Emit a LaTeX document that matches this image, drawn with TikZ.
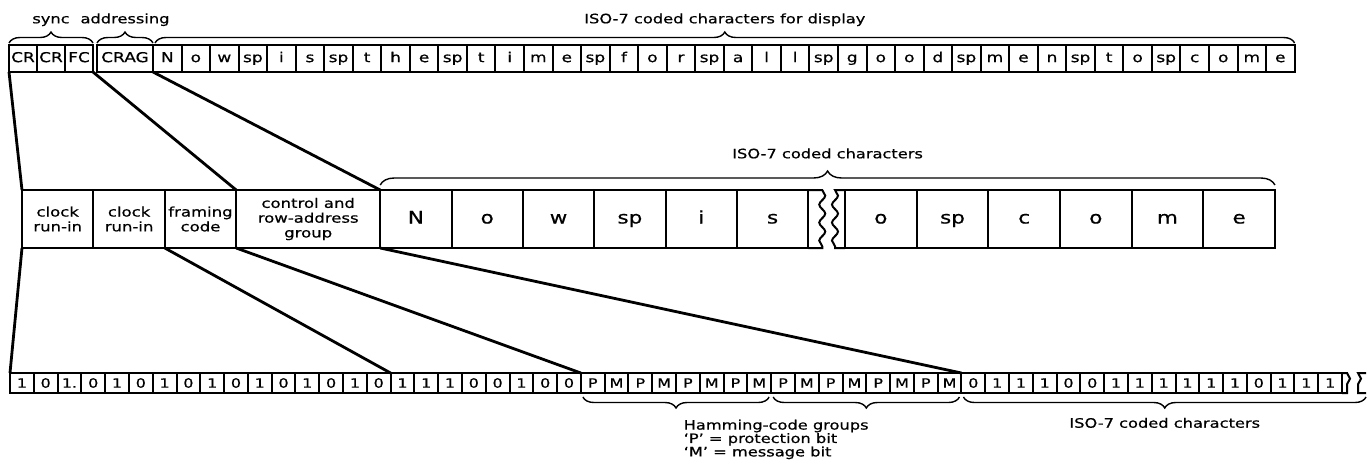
\documentclass[tikz,border=0pt]{standalone}
\usepackage{fontspec}
\setmainfont{DejaVu Sans}[FakeStretch=1.25,FakeBold=0.6]
\usetikzlibrary{positioning,decorations.pathreplacing,decorations.pathmorphing}

\begin{document}
\begin{tikzpicture}[x=0.5pt,y=-0.5pt,
 cell/.style={draw,line width=1pt,inner sep=0pt,outer sep=0pt,anchor=north west},
 tcell/.style={cell,minimum width=14.27pt,minimum height=13.5pt,font=\fontsize{6.8}{7}\selectfont,
   text height=5pt,text depth=1.4pt},
 mcell/.style={cell,minimum width=35.7pt,minimum height=29pt,align=center,font=\fontsize{6.6}{7.4}\selectfont},
 chr/.style={mcell,font=\fontsize{8.6}{9}\selectfont,text height=6.3pt,text depth=1.8pt},
 bcell/.style={cell,minimum width=11.893pt,minimum height=10pt,font=\fontsize{6.4}{7}\selectfont},
 link/.style={line width=1.4pt},
 brc/.style={decorate,decoration={brace,amplitude=5.5pt},line width=0.7pt},
 brk/.style={decorate,decoration={snake,segment length=9pt,amplitude=1.5pt},line width=0.9pt},
 lbl/.style={font=\fontsize{6.5}{6.7}\selectfont,inner sep=1pt,text height=5pt,text depth=1.5pt}]
\useasboundingbox (0,0) rectangle (1369,473);

% display row
\node[tcell,minimum width=14pt] (cr1) at (9,45) {CR};
\node[tcell,minimum width=14pt,right=0pt of cr1] (cr2) {CR};
\node[tcell,minimum width=14pt,right=0pt of cr2] (fc) {FC};
\node[tcell,minimum width=28pt] (crag) at (97,45) {CRAG};
\node[tcell,right=0pt of crag] (t1) {N};
\foreach \c [count=\i from 2,remember=\i as \j (initially 1)] in
  {o,w,sp,i,s,sp,t,h,e,sp,t,i,m,e,sp,f,o,r,sp,a,l,l,sp,g,o,o,d,sp,m,e,n,sp,t,o,sp,c,o,m,e}
  \node[tcell,right=0pt of t\j] (t\i) {\c};

% packet row
\node[mcell] (clk1) at (22,190) {clock\\run-in};
\node[mcell,right=0pt of clk1] (clk2) {clock\\run-in};
\node[mcell,right=0pt of clk2] (frm) {framing\\code};
\node[mcell,minimum width=72pt,right=0pt of frm] (crg) {control and\\row-address\\group};
\node[chr,minimum width=35.67pt,right=0pt of crg] (m1) {N};
\foreach \c [count=\i from 2,remember=\i as \j (initially 1)] in {o,w,sp,i,s}
  \node[chr,minimum width=35.67pt,right=0pt of m\j] (m\i) {\c};
\node[chr,minimum width=35.83pt] (m7) at (845,190) {o};
\foreach \c [count=\i from 8,remember=\i as \j (initially 7)] in {sp,c,o,m,e}
  \node[chr,minimum width=35.83pt,right=0pt of m\j] (m\i) {\c};
\draw[line width=1pt] (m6.north east) -- ([xshift=7pt]m6.north east)
  decorate[brk]{-- ([xshift=7pt]m6.south east)} -- (m6.south east);
\draw[line width=1pt] (m7.north west) -- ([xshift=-5pt]m7.north west)
  decorate[brk]{-- ([xshift=-5pt]m7.south west)} -- (m7.south west);

% bit row
\node[bcell] (b1) at (10,373) {1};
\foreach \c [count=\i from 2,remember=\i as \j (initially 1)] in
  {0,1.,0,1,0,1,0,1,0,1,0,1,0,1,0,1,1,1,0,0,1,0,0,P,M,P,M,P,M,P,M,P,M,P,M,P,M,P,M,
   0,1,1,1,0,0,1,1,1,1,1,1,0,1,1,1}
  \node[bcell,right=0pt of b\j] (b\i) {\c};
\draw[line width=1pt] (b56.north east) -- ([xshift=2.5pt]b56.north east)
  decorate[brk]{-- ([xshift=2.5pt]b56.south east)} -- (b56.south east);
\draw[line width=1pt] ([xshift=12pt]b56.north east) -- ([xshift=8pt]b56.north east)
  decorate[brk]{-- ([xshift=8pt]b56.south east)} -- ([xshift=12pt]b56.south east);

% connectors
\foreach \a/\b in {cr1.south west/clk1.north west,fc.south east/frm.north east,
  crag.south east/crg.north east,clk1.south west/b1.north west,frm.south west/b17.north west,
  crg.south west/b25.north west,crg.south east/b41.north west}
  \draw[link] (\a)--(\b);

% braces
\draw[brc] ([yshift=1pt]cr1.north west) -- ([yshift=1pt]fc.north east)
  node[lbl,midway,above=7pt] {sync};
\draw[brc] ([yshift=1pt]crag.north west) -- ([yshift=1pt]crag.north east)
  node[lbl,midway,above=7pt] {addressing};
\draw[brc] ([yshift=1pt,xshift=1pt]t1.north west) -- ([yshift=1pt]t40.north east)
  node[lbl,midway,above=7pt] {ISO-7 coded characters for display};
\draw[brc,decoration={amplitude=7pt}] ([yshift=2.5pt]m1.north west) -- ([yshift=2.5pt]m12.north east)
  node[lbl,midway,above=10.5pt] {ISO-7 coded characters};
\draw[brc,decoration={mirror}] ([yshift=-2pt,xshift=1pt]b25.south west) -- ([yshift=-2pt,xshift=-1pt]b32.south east)
  node[lbl,midway,below right=10pt and 2.5pt,align=left,text height=,text depth=] {Hamming-code groups\\‘P’ = protection bit\\‘M’ = message bit};
\draw[brc,decoration={mirror}] ([yshift=-2pt,xshift=1pt]b33.south west) -- ([yshift=-2pt,xshift=-1pt]b40.south east);
\draw[brc,decoration={mirror}] ([yshift=-2pt,xshift=1pt]b41.south west) -- ([yshift=-2pt,xshift=12pt]b56.south east)
  node[lbl,midway,below=9pt] {ISO-7 coded characters};
\end{tikzpicture}
\end{document}
